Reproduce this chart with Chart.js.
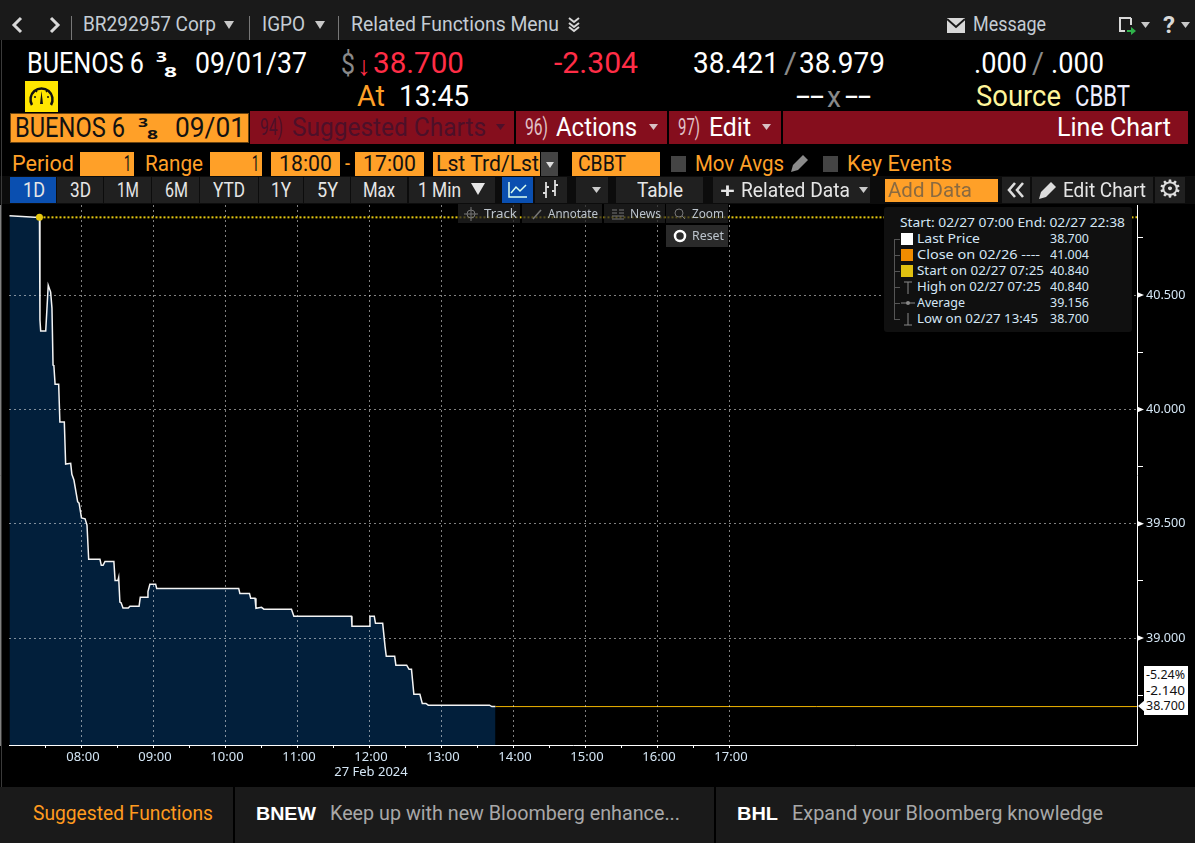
<!DOCTYPE html>
<html>
<head>
<meta charset="utf-8">
<title>BUENOS 6 3/8 09/01/37 Line Chart</title>
<script src="https://cdn.jsdelivr.net/npm/chart.js@4"></script>
<style>
  html, body { margin: 0; padding: 0; background: #000; overflow: hidden; }
  #page { position: relative; width: 1195px; height: 843px; overflow: hidden; }
  #chart { position: absolute; left: 0; top: 201px; }
  .box { position: absolute; }
  .box svg { display: block; }
  .txt { position: absolute; white-space: pre; transform-origin: 0 50%; line-height: 1; }
</style>
</head>
<body>
<div id="page"><canvas id="chart" width="1195" height="584"></canvas></div>
<script>
// minutes after midnight, 27 Feb 2024
const priceTimes = [420, 441, 445, 445.4, 446, 450.2, 452.3, 454.3, 455.4, 456.3, 457, 458, 461, 462, 465.7, 466.8, 471, 472, 473.7, 476.8, 478, 480, 483, 484.6, 486, 495.4, 496.5, 498, 499.6, 507, 508, 510.4, 511, 512, 513, 514.6, 519, 520.4, 528, 529, 534.6, 535.4, 537, 541.8, 542.7, 611, 612, 620, 621, 624.6, 625.4, 630, 632, 655, 657, 705, 705.4, 720, 720.4, 724, 725, 731, 733, 734, 741, 742, 751, 753, 755, 757, 762, 764, 767, 769, 820, 822, 825];
const priceValues = [40.847, 40.84, 40.84, 40.391, 40.343, 40.343, 40.543, 40.513, 40.443, 40.194, 40.191, 40.11, 40.11, 39.945, 39.945, 39.761, 39.764, 39.716, 39.691, 39.596, 39.59, 39.525, 39.521, 39.494, 39.344, 39.344, 39.318, 39.318, 39.335, 39.335, 39.252, 39.252, 39.265, 39.157, 39.154, 39.131, 39.131, 39.139, 39.139, 39.178, 39.178, 39.203, 39.235, 39.235, 39.217, 39.217, 39.195, 39.195, 39.174, 39.174, 39.13, 39.134, 39.126, 39.126, 39.095, 39.095, 39.051, 39.051, 39.095, 39.095, 39.064, 39.064, 38.962, 38.92, 38.92, 38.881, 38.881, 38.863, 38.863, 38.754, 38.754, 38.714, 38.714, 38.706, 38.706, 38.7, 38.7];
const lastPrice = 38.7;
const startPrice = 40.84;
const startTime = 445;
const lastTime = 825;
const xMin = 419.6, xMax = 1359.6;
const yMin = 38.532, yMax = 40.894;
const xTicks = [450, 480, 510, 540, 570, 600, 630, 660, 690, 720, 750, 780, 810, 840, 870, 900, 930, 960, 990, 1020];
const yTicks = [38.75, 39, 39.25, 39.5, 39.75, 40, 40.25, 40.5, 40.75];
const dateLabel = '27 Feb 2024';

const TICK_COLOR = '#d4e6f5';
const GRID_COLOR = 'rgba(255,255,255,0.5)';
const ORANGE = '#ffa028';
const NARROW = '"Liberation Sans Narrow", Roboto, sans-serif';
const SMALL = '"Noto Sans", sans-serif';
const page = document.getElementById('page');

function box(x0, y0, x1, y1, bg, extra) {
    const d = document.createElement('div');
    d.className = 'box';
    d.style.cssText = `left:${x0}px;top:${y0}px;width:${x1 - x0}px;height:${y1 - y0}px;background:${bg};${extra || ''}`;
    page.appendChild(d);
    return d;
}

// text squeezed to fit x0..x1, vertically centred on cy
function txt(text, x0, x1, cy, size, color, font, weight) {
    const s = document.createElement('span');
    s.className = 'txt';
    s.textContent = text;
    s.style.cssText = `left:${x0}px;font-size:${size}px;color:${color};font-family:${font || NARROW};font-weight:${weight || 'normal'};`;
    page.appendChild(s);
    const r = s.getBoundingClientRect();
    s.style.top = (cy - r.height / 2) + 'px';
    s.style.transform = `scaleX(${(x1 - x0) / r.width})`;
}

function svg(x, y, w, h, inner) {
    const d = document.createElement('div');
    d.className = 'box';
    d.style.cssText = `left:${x}px;top:${y}px;width:${w}px;height:${h}px;`;
    d.innerHTML = `<svg width="${w}" height="${h}" viewBox="0 0 ${w} ${h}">${inner}</svg>`;
    page.appendChild(d);
}

// small dropdown arrow
function tri(x, cy, w, h, color) {
    svg(x, cy - h / 2, w, h, `<path d="M0 0 H${w} L${w / 2} ${h} Z" fill="${color}"/>`);
}

function drawChrome() {
    // top bar
    box(0, 0, 1195, 40, '#1a1a1a');
    svg(10, 16, 52, 20, '<path d="M11 2 L4 9 L11 16 M41 2 L48 9 L41 16" fill="none" stroke="#d8d8d8" stroke-width="3"/>');
    [71, 249, 338].forEach(x => box(x, 16, x + 1, 40, '#777'));
    txt('BR292957 Corp', 83, 216, 24, 21, '#c4ccd4');
    tri(224, 25, 10, 8, '#c8c8c8');
    txt('IGPO', 262, 305, 24, 21, '#c4ccd4');
    tri(315, 25, 10, 8, '#c8c8c8');
    txt('Related Functions Menu', 351, 559, 24, 21, '#c4ccd4');
    svg(567, 16, 14, 18, '<path d="M2 2 L7 6 L12 2 M2 7 L7 11 L12 7 M2 11 L7 15 L12 11" fill="none" stroke="#d8d8d8" stroke-width="2"/>');
    svg(947, 17, 18, 16, '<rect width="18" height="15" y="1" fill="#d8d8d8"/><path d="M0 2 L9 10 L18 2" fill="none" stroke="#1a1a1a" stroke-width="2"/>');
    txt('Message', 973, 1046, 24, 21, '#c4ccd4');
    svg(1118, 17, 20, 20, '<path d="M13 1 H2 V14 H7 M13 1 V8" fill="none" stroke="#d8d8d8" stroke-width="2"/><path d="M9 13 H13 V10 L18 14 L13 18 V15 H9 Z" fill="#2fb34a"/>');
    tri(1141, 25, 9, 6, '#c8c8c8');
    txt('?', 1163, 1175, 25, 24, '#d8d8d8', NARROW, 'bold');
    tri(1181, 25, 9, 6, '#c8c8c8');

    // quote rows
    txt('BUENOS 6', 27, 144, 63, 29, '#fff');
    txt('3', 156, 167, 56, 15, '#fff', SMALL, 'bold');
    txt('8', 164, 177, 71, 15, '#fff', SMALL, 'bold');
    txt('09/01/37', 195, 307, 63, 29, '#fff');
    txt('$', 341, 355, 64, 29, '#8a8a8a');
    txt('↓', 357, 371, 64, 27, '#ff2d46', SMALL);
    txt('38.700', 373, 464, 63, 30, '#ff2d46');
    txt('-2.304', 554, 638, 63, 29, '#ff2d46');
    txt('38.421', 693, 779, 63, 29, '#fff');
    txt('/', 784, 797, 63, 29, '#8a8a8a');
    txt('38.979', 799, 885, 63, 29, '#fff');
    txt('.000', 974, 1027, 63, 29, '#fff');
    txt('/', 1032, 1044, 63, 29, '#8a8a8a');
    txt('.000', 1051, 1104, 63, 29, '#fff');
    box(25, 81, 58, 112, '#ffe600');
    svg(28, 84, 27, 25, '<path d="M4 21 A11 11 0 1 1 23 21" fill="none" stroke="#111" stroke-width="2.5"/><path d="M12 20 L13.5 7 L15 20 Z" fill="#111"/><path d="M6 13 H8 M19 13 H21 M8 7 L9 8 M19 7 L18 8" stroke="#111" stroke-width="1.5"/>');
    txt('At', 357, 385, 96, 29, ORANGE);
    txt('13:45', 399, 469, 96, 29, '#fff');
    txt('--', 796, 824, 96, 29, '#fff');
    txt('x', 827, 841, 97, 29, '#8a8a8a');
    txt('--', 845, 871, 96, 29, '#fff');
    txt('Source', 976, 1061, 96, 29, '#fff59a');
    txt('CBBT', 1075, 1130, 96, 29, '#eef');

    // red title row
    box(10, 113, 249, 143, ORANGE, 'box-sizing:border-box;border:1px solid #6b4411;');
    txt('BUENOS 6', 15, 125, 128, 27, '#111');
    txt('3', 138, 148, 122, 13, '#111', SMALL, 'bold');
    txt('8', 147, 158, 134, 13, '#111', SMALL, 'bold');
    txt('09/01', 175, 245, 128, 27, '#111');
    box(250, 111, 514, 144, '#850e1d');
    txt('94)', 260, 283, 127, 23, '#4d1029');
    txt('Suggested Charts', 292, 486, 127, 26, '#4d1029');
    tri(496, 127, 9, 6, '#4d1029');
    box(516, 111, 667, 144, '#850e1d');
    txt('96)', 525, 548, 127, 23, '#e0c0c6');
    txt('Actions', 556, 637, 127, 26, '#fff');
    tri(649, 127, 9, 6, '#d8c0c4');
    box(669, 111, 781, 144, '#850e1d');
    txt('97)', 678, 700, 127, 23, '#e0c0c6');
    txt('Edit', 709, 751, 127, 26, '#fff');
    tri(762, 127, 9, 6, '#d8c0c4');
    box(783, 111, 1188, 144, '#850e1d');
    txt('Line Chart', 1057, 1171, 127, 26, '#fff');

    // period row
    txt('Period', 12, 74, 164, 22, ORANGE);
    box(80, 152, 134, 176, ORANGE);
    txt('1', 124, 131, 164, 22, '#111');
    txt('Range', 145, 203, 164, 22, ORANGE);
    box(210, 152, 262, 176, ORANGE);
    txt('1', 252, 259, 164, 22, '#111');
    box(271, 152, 340, 176, ORANGE);
    txt('18:00', 279, 332, 164, 22, '#111');
    txt('-', 345, 350, 164, 22, ORANGE);
    box(355, 152, 424, 176, ORANGE);
    txt('17:00', 363, 416, 164, 22, '#111');
    box(433, 152, 540, 176, ORANGE);
    txt('Lst Trd/Lst', 436, 539, 164, 22, '#111');
    box(541, 152, 558, 176, '#444');
    tri(546, 165, 8, 6, '#ddd');
    box(572, 152, 660, 176, ORANGE);
    txt('CBBT', 578, 626, 164, 22, '#111');
    box(671, 156, 686, 172, '#444');
    txt('Mov Avgs', 695, 784, 164, 22, ORANGE);
    svg(790, 154, 19, 19, '<path d="M1 18 L3 11 L13 1 L18 6 L8 16 Z" fill="#8a8a8a"/>');
    box(823, 156, 838, 172, '#444');
    txt('Key Events', 847, 952, 164, 22, ORANGE);

    // range buttons
    box(0, 176, 1195, 204, '#0c0c0c');
    const rangeBtns = [['1D', 10, 56, 23, 45], ['3D', 57, 103, 70, 91], ['1M', 104, 151, 117, 139], ['6M', 152, 199, 165, 188], ['YTD', 200, 258, 213, 245], ['1Y', 259, 303, 271, 291], ['5Y', 304, 350, 317, 338], ['Max', 351, 407, 363, 395]];
    rangeBtns.forEach(b => {
        box(b[1], 177, b[2], 203, b[0] === '1D' ? '#0a4fb0' : '#202020');
        txt(b[0], b[3], b[4], 190, 20, '#e6e6e6');
    });
    box(409, 177, 495, 203, '#202020');
    txt('1 Min', 418, 461, 190, 20, '#e6e6e6');
    tri(471, 189, 14, 12, '#e6e6e6');
    box(502, 177, 533, 203, '#0a4fb0');
    svg(507, 180, 22, 20, '<path d="M2 2 V17 H20" fill="none" stroke="#dfe" stroke-width="1.5"/><path d="M4 13 L9 7 L13 11 L19 5" fill="none" stroke="#dfe" stroke-width="1.5"/>');
    box(535, 177, 567, 203, '#202020');
    svg(541, 179, 20, 22, '<path d="M5 3 V19 M2 14 H5 M14 1 V17 M14 6 H17 M14 12 H11 M5 8 H8" stroke="#ddd" stroke-width="1.8" fill="none"/>');
    box(576, 177, 608, 203, '#202020');
    tri(592, 190, 9, 6, '#ccc');
    box(616, 177, 703, 203, '#202020');
    txt('Table', 637, 683, 190, 20, '#e6e6e6');
    box(713, 177, 870, 203, '#202020');
    txt('+', 720, 735, 189, 22, '#e6e6e6', SMALL, 'bold');
    txt('Related Data', 741, 850, 190, 20, '#e6e6e6');
    tri(859, 190, 9, 6, '#ccc');
    box(885, 179, 998, 202, ORANGE);
    txt('Add Data', 888, 972, 190, 20, '#8a6a40');
    box(1002, 177, 1030, 203, '#202020');
    svg(1006, 182, 20, 16, '<path d="M9 1 L3 8 L9 15 M17 1 L11 8 L17 15" fill="none" stroke="#ddd" stroke-width="2.6"/>');
    box(1032, 177, 1153, 203, '#202020');
    svg(1038, 181, 19, 19, '<path d="M1 18 L3 11 L13 1 L18 6 L8 16 Z" fill="#ddd"/>');
    txt('Edit Chart', 1063, 1146, 190, 20, '#e6e6e6');
    box(1155, 177, 1185, 203, '#202020');
    txt('⚙', 1158, 1182, 189, 24, '#ddd', '"DejaVu Sans"');

    // chart tools
    const tools = [['Track', 458, 520, 484, 517], ['Annotate', 522, 602, 548, 598], ['News', 604, 665, 630, 661], ['Zoom', 666, 728, 692, 724]];
    tools.forEach(b => {
        box(b[1], 204, b[2], 223, 'rgba(34,34,34,0.72)');
        txt(b[0], b[3], b[4], 214, 12, '#bcc4cc', SMALL);
    });
    svg(463, 206, 16, 16, '<circle cx="8" cy="8" r="4" fill="none" stroke="#777"/><path d="M8 1 V15 M1 8 H15" stroke="#777"/>');
    svg(531, 208, 12, 12, '<path d="M2 11 L10 2" stroke="#777" stroke-width="1.5"/>');
    svg(611, 208, 14, 12, '<path d="M1 2 H6 M8 2 H13 M1 5 H6 M8 5 H13 M1 8 H13 M1 11 H13" stroke="#777"/>');
    svg(673, 207, 14, 14, '<circle cx="6" cy="6" r="4" fill="none" stroke="#777"/><path d="M9 9 L12 12" stroke="#777"/>');
    box(666, 225, 728, 247, '#2a2a2a');
    svg(673, 229, 14, 14, '<circle cx="7" cy="7" r="5" fill="none" stroke="#fff" stroke-width="2.5"/>');
    txt('Reset', 692, 724, 236, 12, '#bcc4cc', SMALL);

    // legend panel
    box(884, 207, 1132, 332, '#101010', 'border-radius:3px;');
    const legendRows = [
        ['Last Price', 917, 980, '38.700', 239],
        ['Close on 02/26 ----', 917, 1040, '41.004', 255],
        ['Start on 02/27 07:25', 917, 1044, '40.840', 271],
        ['High on 02/27 07:25', 917, 1041, '40.840', 287],
        ['Average', 917, 965, '39.156', 303],
        ['Low on 02/27 13:45', 917, 1038, '38.700', 319]
    ];
    txt('Start: 02/27 07:00 End: 02/27 22:38', 900, 1125, 223, 12.5, TICK_COLOR, SMALL);
    box(894, 239, 895, 319, '#555');
    legendRows.forEach(r => {
        box(894, r[4], 900, r[4] + 1, '#555');
        txt(r[0], r[1], r[2], r[4], 12.5, TICK_COLOR, SMALL);
        txt(r[3], 1050, 1089, r[4], 12.5, TICK_COLOR, SMALL);
    });
    box(901, 233, 913, 245, '#fff');
    box(901, 249, 913, 261, '#f08c00');
    box(901, 265, 913, 277, '#e0c010');
    svg(901, 281, 14, 13, '<path d="M3 1 H11 M7 1 V13" stroke="#888"/>');
    svg(901, 298, 14, 10, '<path d="M0 5 H14" stroke="#888"/><circle cx="7" cy="5" r="2" fill="#888"/>');
    svg(901, 313, 14, 13, '<path d="M3 12 H11 M7 0 V12" stroke="#888"/>');

    // value tag on the right axis
    box(1144, 666, 1188, 715, '#fff');
    svg(1138, 700, 7, 12, '<path d="M0 6 L7 0 V12 Z" fill="#fff"/>');
    txt('-5.24%', 1146, 1185, 675, 12.5, '#111', SMALL);
    txt('-2.140', 1146, 1185, 691, 12.5, '#111', SMALL);
    txt('38.700', 1146, 1185, 706, 12.5, '#111', SMALL);

    // window edge and bottom bar
    box(1, 40, 2, 787, '#3a3a3a');
    box(0, 787, 1195, 843, '#1a1a1a');
    box(233, 787, 235, 843, '#000');
    box(714, 787, 716, 843, '#000');
    txt('Suggested Functions', 33, 213, 813, 21, '#ff9a1f');
    txt('BNEW', 256, 316, 813, 19, '#fff', '"Liberation Sans"', 'bold');
    txt('Keep up with new Bloomberg enhance...', 330, 680, 813, 21, '#a8a8a8');
    txt('BHL', 737, 778, 813, 19, '#fff', '"Liberation Sans"', 'bold');
    txt('Expand your Bloomberg knowledge', 792, 1103, 813, 21, '#a8a8a8');
}

function pad(n) { return String(n).padStart(2, '0'); }

// solid axis lines, and white arrow heads on the labelled price ticks
const axisArrows = {
    id: 'axisArrows',
    afterDraw(chart) {
        const y = chart.scales.y, ctx = chart.ctx, area = chart.chartArea;
        ctx.save();
        ctx.strokeStyle = '#fff';
        ctx.lineWidth = 1;
        ctx.beginPath();
        ctx.moveTo(Math.round(area.left), Math.round(area.bottom) + 0.5);
        ctx.lineTo(Math.round(area.right) + 0.5, Math.round(area.bottom) + 0.5);
        ctx.lineTo(Math.round(area.right) + 0.5, Math.round(area.top));
        ctx.stroke();
        ctx.fillStyle = '#fff';
        yTicks.filter(v => v * 2 === Math.round(v * 2)).forEach(v => {
            const py = y.getPixelForValue(v);
            ctx.beginPath();
            ctx.moveTo(y.left, py - 3);
            ctx.lineTo(y.left + 7, py);
            ctx.lineTo(y.left, py + 3);
            ctx.fill();
        });
        ctx.restore();
    }
};

function initChart() {
    new Chart(document.getElementById('chart'), {
        type: 'line',
        plugins: [axisArrows],
        data: {
            datasets: [
                {
                    label: 'Last Price',
                    data: priceTimes.map((t, i) => ({ x: t, y: priceValues[i] })),
                    borderColor: '#f4f4f4',
                    borderWidth: 1.5,
                    backgroundColor: '#021f3b',
                    fill: 'start',
                    pointRadius: 0,
                    tension: 0,
                    order: 2
                },
                {
                    label: 'Start',
                    data: [{ x: startTime, y: startPrice }, { x: xMax, y: startPrice }],
                    borderColor: '#e6c80f',
                    borderWidth: 2,
                    borderDash: [2, 2],
                    pointRadius: [3.5, 0],
                    pointBackgroundColor: '#e6c80f',
                    pointBorderWidth: 0,
                    order: 1
                },
                {
                    label: 'Last line',
                    data: [{ x: lastTime, y: lastPrice }, { x: xMax, y: lastPrice }],
                    borderColor: '#f0b400',
                    borderWidth: 1,
                    pointRadius: 0,
                    order: 1
                }
            ]
        },
        options: {
            responsive: false,
            animation: false,
            layout: { padding: { left: 9 } },
            plugins: { legend: { display: false }, tooltip: { enabled: false } },
            scales: {
                x: {
                    type: 'linear',
                    min: xMin,
                    max: xMax,
                    afterBuildTicks: s => { s.ticks = xTicks.map(v => ({ value: v })); },
                    afterFit: s => { s.height = 40; s.paddingLeft = 0; s.paddingRight = 0; },
                    border: { color: '#fff', width: 1, dash: [2, 3] },
                    grid: {
                        z: 1,
                        color: c => c.tick && c.tick.value % 60 === 0 ? GRID_COLOR : 'transparent',
                        tickColor: '#fff',
                        tickLength: 3,
                        tickWidth: 1,
                        tickBorderDash: []
                    },
                    ticks: {
                        autoSkip: false,
                        maxRotation: 0,
                        padding: 1,
                        labelOffset: 1.5,
                        color: TICK_COLOR,
                        font: { family: 'Noto Sans', size: 13, lineHeight: 1.2 },
                        callback: v => {
                            if (v % 60 !== 0) return '';
                            const label = pad(v / 60) + ':00';
                            return v === 720 ? [label, dateLabel] : label;
                        }
                    }
                },
                y: {
                    position: 'right',
                    min: yMin,
                    max: yMax,
                    afterBuildTicks: s => { s.ticks = yTicks.map(v => ({ value: v })); },
                    afterFit: s => { s.width = 58; s.paddingTop = 0; s.paddingBottom = 0; },
                    border: { color: '#fff', width: 1, dash: [2, 3] },
                    grid: {
                        z: 1,
                        color: c => c.tick && c.tick.value * 2 === Math.round(c.tick.value * 2) ? GRID_COLOR : 'transparent',
                        tickColor: c => c.tick && c.tick.value * 2 === Math.round(c.tick.value * 2) ? 'transparent' : '#fff',
                        tickLength: 6,
                        tickWidth: 1,
                        tickBorderDash: []
                    },
                    ticks: {
                        autoSkip: false,
                        padding: 3,
                        color: TICK_COLOR,
                        font: { family: 'Noto Sans', size: 12.6 },
                        callback: v => v * 2 === Math.round(v * 2) ? v.toFixed(3) : ''
                    }
                }
            }
        }
    });
}

initChart();
drawChrome();
</script>
</body>
</html>
